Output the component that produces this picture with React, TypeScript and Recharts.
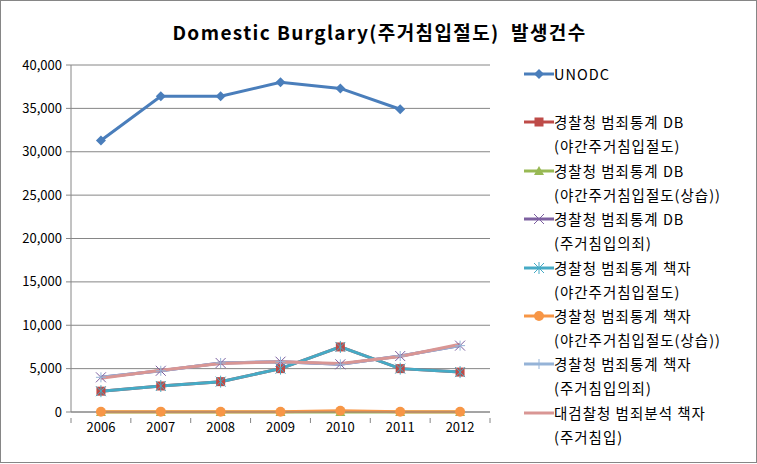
import React from "react";
import { CartesianGrid, Line, LineChart, XAxis, YAxis } from "recharts";

const years = [2006, 2007, 2008, 2009, 2010, 2011, 2012];
const unodc = [31300, 36400, 36400, 38000, 37300, 34900, null];
const dbNight = [2400, 3000, 3500, 5000, 7500, 5000, 4600];
const dbNightHabit = [0, 0, 0, 0, 0, 0, 0];
const dbTrespass = [4000, 4750, 5650, 5800, 5500, 6450, 7650];
const bookNight = [2400, 3000, 3500, 5000, 7500, 5000, 4600];
const bookNightHabit = [30, 40, 30, 30, 150, 20, 20];
const bookTrespass = [4000, 4750, 5650, 5800, 5500, 6450, 7650];
const prosecutor = [3900, 4800, 5600, 5800, 5600, 6400, 7800];
const yTicks = [0, 5000, 10000, 15000, 20000, 25000, 30000, 35000, 40000];
const xTicks = [2005.5, 2006, 2006.5, 2007, 2007.5, 2008, 2008.5, 2009, 2009.5, 2010, 2010.5, 2011, 2011.5, 2012, 2012.5];

const series = [
  { key: "unodc", line1: "UNODC", line2: "", color: "#4A7EBB", marker: "diamond", values: unodc },
  { key: "dbNight", line1: "경찰청 범죄통계 DB", line2: "(야간주거침입절도)", color: "#BE4B48", marker: "square", values: dbNight },
  { key: "dbNightHabit", line1: "경찰청 범죄통계 DB", line2: "(야간주거침입절도(상습))", color: "#98B954", marker: "triangle", values: dbNightHabit },
  { key: "dbTrespass", line1: "경찰청 범죄통계 DB", line2: "(주거침입의죄)", color: "#7D60A0", marker: "x", values: dbTrespass },
  { key: "bookNight", line1: "경찰청 범죄통계 책자", line2: "(야간주거침입절도)", color: "#46AAC5", marker: "star", values: bookNight },
  { key: "bookNightHabit", line1: "경찰청 범죄통계 책자", line2: "(야간주거침입절도(상습))", color: "#F79646", marker: "circle", values: bookNightHabit },
  { key: "bookTrespass", line1: "경찰청 범죄통계 책자", line2: "(주거침입의죄)", color: "#95B3D7", marker: "plus", values: bookTrespass },
  { key: "prosecutor", line1: "대검찰청 범죄분석 책자", line2: "(주거침입)", color: "#D99694", marker: "none", values: prosecutor },
];

const data = years.map((year, i) => {
  const row: Record<string, number | null> = { year };
  series.forEach((s) => (row[s.key] = s.values[i]));
  return row;
});

const FONT = "'Noto Sans CJK KR', 'Noto Sans', sans-serif";

function Marker({ shape, cx, cy, color }: { shape: string; cx: number; cy: number; color: string }) {
  if (shape === "diamond")
    return <polygon points={`${cx},${cy - 5} ${cx + 5},${cy} ${cx},${cy + 5} ${cx - 5},${cy}`} fill={color} />;
  if (shape === "square") return <rect x={cx - 4.5} y={cy - 4.5} width={9} height={9} fill={color} />;
  if (shape === "triangle")
    return <polygon points={`${cx},${cy - 5} ${cx + 5},${cy + 4} ${cx - 5},${cy + 4}`} fill={color} />;
  if (shape === "circle") return <circle cx={cx} cy={cy} r={5} fill={color} />;
  if (shape === "x")
    return (
      <path d={`M${cx - 5},${cy - 5}L${cx + 5},${cy + 5}M${cx - 5},${cy + 5}L${cx + 5},${cy - 5}`} stroke={color} strokeWidth={1} />
    );
  if (shape === "star")
    return (
      <path
        d={`M${cx - 5},${cy - 5}L${cx + 5},${cy + 5}M${cx - 5},${cy + 5}L${cx + 5},${cy - 5}M${cx},${cy - 6}L${cx},${cy + 6}`}
        stroke={color}
        strokeWidth={1}
      />
    );
  if (shape === "plus")
    return <path d={`M${cx - 5},${cy}L${cx + 5},${cy}M${cx},${cy - 5}L${cx},${cy + 5}`} stroke={color} strokeWidth={1} />;
  return null;
}

function XTick(props: any) {
  const { x, y, payload } = props;
  const v = payload.value as number;
  if (Number.isInteger(v)) {
    return (
      <text x={x} y={y} dy={14} textAnchor="middle" fontSize={13} fontFamily={FONT} fill="#000">
        {v}
      </text>
    );
  }
  return <line x1={x} x2={x} y1={y} y2={y + 5} stroke="#868686" />;
}

function Legend() {
  return (
    <div
      style={{ position: "absolute", left: 522, top: 61, fontFamily: FONT, fontSize: 14.5, letterSpacing: 1, color: "#000" }}
    >
      {series.map((s) => (
        <div key={s.key} style={{ height: 48.4, position: "relative" }}>
          <svg width={32} height={24} style={{ position: "absolute", left: 0, top: 0 }}>
            <line x1={1} x2={31} y1={12} y2={12} stroke={s.color} strokeWidth={3} />
            <Marker shape={s.marker} cx={16} cy={12} color={s.color} />
          </svg>
          <div style={{ position: "absolute", left: 31, top: 0, lineHeight: "24px", whiteSpace: "nowrap" }}>
            {s.line1}
          </div>
          <div style={{ position: "absolute", left: 31, top: 24, lineHeight: "24px", whiteSpace: "nowrap" }}>
            {s.line2}
          </div>
        </div>
      ))}
    </div>
  );
}

export default function App() {
  return (
    <div
      style={{
        position: "absolute",
        left: 0,
        top: 0,
        width: 757,
        height: 463,
        boxSizing: "border-box",
        border: "1px solid #868686",
        background: "#fff",
      }}
    >
      <div
        style={{
          position: "absolute",
          left: 0,
          width: 757,
          top: 18,
          textAlign: "center",
          fontFamily: FONT,
          fontWeight: "bold",
          fontSize: 19,
          letterSpacing: 1.4,
          lineHeight: "26px",
        }}
      >
        Domestic Burglary(주거침입절도)&nbsp;&nbsp;발생건수
      </div>
      <div style={{ position: "absolute", left: -1, top: -1 }}>
        <LineChart width={757} height={464} data={data} margin={{ top: 65, right: 267, bottom: 22, left: 8 }}>
          <CartesianGrid vertical={false} stroke="#868686" />
          <XAxis
            dataKey="year"
            type="number"
            domain={[2005.5, 2012.5]}
            ticks={xTicks}
            interval={0}
            tickLine={false}
            tick={<XTick />}
            tickMargin={0}
            height={30}
            stroke="#868686"
          />
          <YAxis
            domain={[0, 40000]}
            ticks={yTicks}
            width={63}
            tickSize={5}
            tickMargin={4}
            stroke="#868686"
            tick={{ fill: "#000", fontSize: 13, fontFamily: FONT }}
            tickFormatter={(v: number) => v.toLocaleString("en-US")}
          />
          {series.map((s) => (
            <Line
              key={s.key}
              dataKey={s.key}
              stroke={s.color}
              strokeWidth={3}
              isAnimationActive={false}
              activeDot={false}
              dot={(p: any) =>
                p.cy == null ? <g key={p.key} /> : (
                  <g key={p.key}>
                    <Marker shape={s.marker} cx={p.cx} cy={p.cy} color={s.color} />
                  </g>
                )
              }
            />
          ))}
        </LineChart>
      </div>
      <Legend />
    </div>
  );
}
